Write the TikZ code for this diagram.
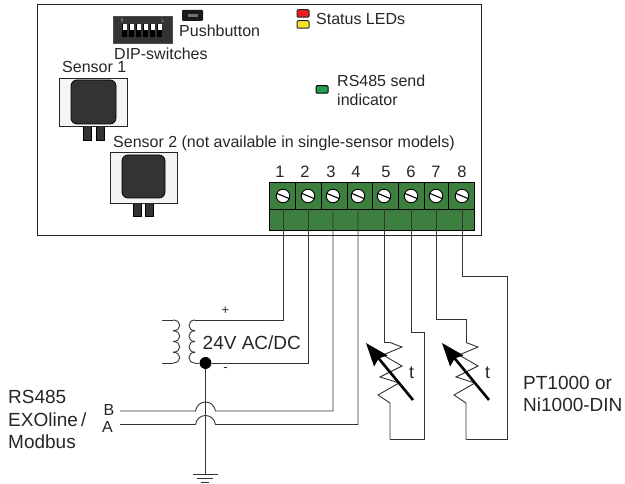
\documentclass[tikz,border=0pt]{standalone}
\usepackage{fontspec}
\setmainfont{Liberation Sans}
\usepackage{tikz}
\usetikzlibrary{calc,positioning,arrows.meta,shapes.geometric}
\definecolor{termgreen}{HTML}{3C7F3E}
\definecolor{bodydark}{HTML}{333333}
\definecolor{ledred}{HTML}{ED1C24}
\definecolor{ledyellow}{HTML}{F2E32A}
\definecolor{ledgreen}{HTML}{22A050}
\tikzset{
	>=stealth,
	txt/.style={
		anchor=base west,
		inner sep=0pt,
		text=black!85,
		font={\fontsize{16pt}{18}\selectfont}
	},
	bigtxt/.style={
		txt,
		font={\fontsize{19pt}{22}\selectfont}
	},
	smalltxt/.style={
		anchor=center,
		inner sep=0pt,
		text=black!85,
		font={\fontsize{13pt}{14}\selectfont}
	},
	wire/.style={draw=black!80, line width=0.9pt},
	sensorcase/.style={
		rectangle,
		draw=black!85, line width=0.9pt,
		fill=black!4,
		inner sep=0pt
	},
	sensorbody/.style={
		rectangle,
		rounded corners=6pt,
		draw=black, line width=0.8pt,
		fill=bodydark,
		inner sep=0pt
	},
	sensorpin/.style={
		rectangle,
		draw=black, line width=0.8pt,
		fill=bodydark,
		minimum width=8pt, minimum height=15pt,
		inner sep=0pt
	},
	led/.style={
		rectangle,
		rounded corners=1pt,
		draw=black!85, line width=1pt,
		minimum width=12pt, minimum height=7.5pt,
		inner sep=0pt
	},
	screw/.style={
		circle,
		draw=black, line width=0.9pt,
		fill=white,
		minimum size=13.5pt,
		inner sep=0pt
	},
	tempwire/.style={-{Stealth[length=23pt,width=17pt,inset=3pt]}, line width=2.6pt, black}
}

\begin{document}
\begin{tikzpicture}[x=1pt,y=-1pt]
	\useasboundingbox (0,0) rectangle (625,484);

	% board and terminal block
	\node[draw=black!85, line width=1pt, minimum width=444pt, minimum height=231.5pt, inner sep=0pt] (board) at (259,120.2) {};
	\node[draw=black, line width=1pt, fill=termgreen, minimum width=205pt, minimum height=48pt, inner sep=0pt] (block) at (371.5,207) {};
	\draw[line width=0.9pt] (block.west |- 0,209) -- (block.east |- 0,209);
	\foreach \x in {295,321,347,372,398,424,448}
		\draw[line width=0.9pt] (\x,183) -- (\x,209);
	\foreach \n/\x/\lx in {1/283/280,2/308/305,3/333/331,4/358/356,5/384/386,6/411/411,7/436/436,8/462/462}{
		\node[screw] (t\n) at (\x,196) {};
		\draw[line width=1.1pt] ($(t\n)+(-6.2,-2.6)$) -- ($(t\n)+(6.2,2.6)$);
		\node[txt, anchor=base, font={\fontsize{16.5pt}{18}\selectfont}] (l\n) at (\lx,178) {\n};
		\coordinate (p\n) at (\x,209);
	}

	% dip-switches and pushbutton
	\node[draw=black!70, fill=bodydark, minimum width=59pt, minimum height=27pt, inner sep=0pt] (dip) at (142.5,30) {};
	\foreach \x in {124.5,131.5,138.5,145.5,152.5,159.5}{
		\node[fill=black, minimum width=5pt, minimum height=13pt, inner sep=0pt] (sw\x) at (\x,30.5) {};
		\node[fill=white, minimum width=4pt, minimum height=6pt, inner sep=0pt] (swt\x) at (\x,27.5) {};
	}
	\node[inner sep=0pt, text=black!35, font={\fontsize{5pt}{5}\selectfont}] (dipa) at (122,21) {9};
	\node[inner sep=0pt, text=black!35, font={\fontsize{5pt}{5}\selectfont}] (dipb) at (163,21) {L};
	\node[rounded corners=1pt, fill=black!90, minimum width=21pt, minimum height=11pt, inner sep=0pt] (btn) at (192.5,15.5) {};
	\node[fill=black!55, minimum width=10pt, minimum height=3pt, inner sep=0pt] (btncap) at (193,15.5) {};

	% leds
	\node[led, fill=ledred] (ledr) at (303,13.5) {};
	\node[led, fill=ledyellow] (ledy) at (303,24.5) {};
	\node[led, fill=ledgreen, draw=black] (ledg) at (322,89.5) {};

	% sensors
	\node[sensorpin] (s1a) at (87.5,133) {};
	\node[sensorpin] (s1b) at (100,133) {};
	\node[sensorcase, minimum width=68pt, minimum height=48pt] (s1) at (93,102) {};
	\node[sensorbody, minimum width=45pt, minimum height=44pt] (s1c) at (93.5,102) {};
	\node[sensorpin] (s2a) at (137,209) {};
	\node[sensorpin] (s2b) at (149,209) {};
	\node[sensorcase, minimum width=67pt, minimum height=51pt] (s2) at (143.5,177.5) {};
	\node[sensorbody, minimum width=43pt, minimum height=43pt] (s2c) at (143.5,176.5) {};

	% texts on the board
	\node[txt] (dtxt) at (114,60) {DIP-switches};
	\node[txt] (ptxt) at (179,36.5) {Pushbutton};
	\node[txt] (stxt) at (316,25) {Status LEDs};
	\node[txt] (rtxt) at (337,87) {RS485 send};
	\node[txt] (itxt) at (337,106) {indicator};
	\node[txt] (s1txt) at (62,73) {Sensor 1};
	\node[txt] (s2txt) at (113,148) {Sensor 2 (not available in single-sensor models)};

	% supply
	\coordinate (cl1) at (162,320);
	\coordinate (cl2) at (173,320);
	\coordinate (cl3) at (173,363);
	\coordinate (cl4) at (162,363);
	\coordinate (cr1) at (195,320);
	\coordinate (cr2) at (195,363);
	\draw[wire] (cl1) -- (cl2);
	\draw[wire] (cl3) -- (cl4);
	\foreach \y in {320,330.75,341.5,352.25}{
		\draw[wire] (173,\y) .. controls +(9,0) and +(9,0) .. (173,\y+10.75);
		\draw[wire] (195,\y) .. controls +(-8,0) and +(-8,0) .. (195,\y+10.75);
	}
	\node[circle, fill=black, minimum size=12pt, inner sep=0pt] (dot) at (205.5,363) {};
	\draw[wire] (cr2) -- (dot);
	\draw[wire] (p1) |- (cr1);
	\draw[wire] (p2) |- (dot);
	\node[smalltxt] (plus) at (225.5,311) {+};
	\node[smalltxt] (minus) at (225.5,370) {-};
	\node[bigtxt] (vtxt) at (202.5,349) {24V AC/DC};

	% ground
	\coordinate (g1) at (193,474.5);
	\coordinate (g2) at (218,474.5);
	\coordinate (g3) at (197,478.5);
	\coordinate (g4) at (213,478.5);
	\coordinate (g5) at (201,482.5);
	\coordinate (g6) at (209,482.5);
	\draw[wire] (dot) -- ($(g1)!0.5!(g2)$);
	\foreach \from/\to in {g1/g2,g3/g4,g5/g6}
		\draw[wire] (\from) -- (\to);

	% bus
	\coordinate (bs) at (120,411);
	\coordinate (bl) at (195.5,411);
	\coordinate (br) at (215.5,411);
	\coordinate (as) at (120,424.5);
	\coordinate (al) at (195.5,424.5);
	\coordinate (ar) at (215.5,424.5);
	\foreach \a/\b/\c/\w in {bs/bl/br/p3,as/al/ar/p4}
		\draw[wire] (\a) -- (\b) .. controls +(2,-12) and +(-2,-12) .. (\c) -| (\w);
	\node[txt] (btxt) at (103.5,415) {B};
	\node[txt] (atxt) at (102,432) {A};
	\node[bigtxt] (bus1) at (8,403) {RS485};
	\node[bigtxt] (bus2) at (8,426) {EXOline\,/};
	\node[bigtxt] (bus3) at (8,449) {Modbus};

	% temperature sensors
	\foreach \n/\x in {1/390,2/466}{
		\coordinate (rt\n) at (\x,342.5);
		\coordinate (rb\n) at (\x,403);
		\coordinate (rd\n) at (\x,439);
		\draw[wire] (rt\n) -- ++(12,4.5) -- ++(-19,8) -- ++(19,11) -- ++(-22,11) -- ++(19,6) -- ++(-21,12) -- (rb\n) -- (rd\n);
		\coordinate (ah\n) at (\x-24,343);
		\coordinate (at\n) at (\x+23,400);
		\draw[tempwire] (at\n) -- (ah\n);
		\node[txt, font={\fontsize{18pt}{20}\selectfont}] (tt\n) at (\x+19,378) {t};
	}
	\coordinate (k6) at (424,332);
	\coordinate (k7) at (466,319);
	\coordinate (k8) at (507.5,276);
	\draw[wire] (p5) |- (rt1);
	\draw[wire] (rd1) -| (k6) -| (p6);
	\draw[wire] (p7) |- (k7) -- (rt2);
	\draw[wire] (p8) |- (k8) |- (rd2);
	\node[bigtxt] (pt1) at (523,389) {PT1000 or};
	\node[bigtxt] (pt2) at (523,411) {Ni1000-DIN};
\end{tikzpicture}
\end{document}
